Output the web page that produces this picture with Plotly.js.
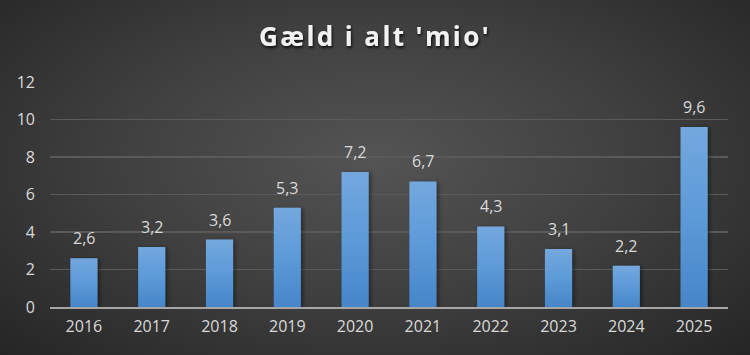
<!DOCTYPE html>
<html><head><meta charset="utf-8">
<script src="https://cdn.plot.ly/plotly-3.0.1.min.js"></script>
<style>
html,body{margin:0;padding:0;}
#chart{width:750px;height:355px;background:radial-gradient(ellipse at 50% 45%, #545454 0%, #3f3f3f 50%, #252525 100%);}
</style></head>
<body><div id="chart"></div>
<script>
const years = ['2016','2017','2018','2019','2020','2021','2022','2023','2024','2025'];
const debt = [2.6, 3.2, 3.6, 5.3, 7.2, 6.7, 4.3, 3.1, 2.2, 9.6];
const labels = debt.map(v => v.toFixed(1).replace('.', ','));
const yTicks = [0, 2, 4, 6, 8, 10, 12];
const FONT = '"Open Sans", Lato, sans-serif';

const trace = {
  type: 'bar', x: years, y: debt,
  marker: {color: '#5b9bd5'},
  hoverinfo: 'none'
};
// category axis: annotation x is the serial number of the category
const annotations = years.map((yr, i) => ({
  x: i, y: debt[i], text: labels[i], showarrow: false,
  xanchor: 'center', yanchor: 'bottom', yshift: 7,
  font: {family: FONT, size: 16, color: '#d9d9d9'}
}));
const layout = {
  width: 750, height: 355,
  paper_bgcolor: 'rgba(0,0,0,0)', plot_bgcolor: 'rgba(0,0,0,0)',
  margin: {l: 50, r: 22, t: 82, b: 48},
  bargap: 0.6,
  showlegend: false,
  annotations: annotations,
  title: {text: "<b>Gæld i alt 'mio'</b>", x: 0.5, xanchor: 'center', y: 0.895, yanchor: 'middle',
    font: {family: FONT, size: 26, color: '#f2f2f2'}},
  xaxis: {type: 'category', categoryorder: 'array', categoryarray: years, range: [-0.5, years.length - 0.5],
    showgrid: false, zeroline: false, showline: true, linecolor: '#a6a6a6', linewidth: 2,
    ticks: '', ticklabelstandoff: 4, tickfont: {family: FONT, size: 16, color: '#d9d9d9'}},
  yaxis: {range: [0, 12], tickvals: yTicks, ticktext: yTicks.map(String), showgrid: true, gridcolor: '#5a5a5a', gridwidth: 1.5,
    zeroline: false, showline: false, ticks: '', ticklabelstandoff: 14,
    tickfont: {family: FONT, size: 16, color: '#d9d9d9'}}
};
Plotly.newPlot('chart', [trace], layout, {displayModeBar: false, staticPlot: true}).then(() => {
  const svg = document.querySelector('#chart svg.main-svg');
  const NS = 'http://www.w3.org/2000/svg';
  const defs = document.createElementNS(NS, 'defs');
  defs.innerHTML = '<linearGradient id="barGrad" x1="0" y1="0" x2="0" y2="1">' +
    '<stop offset="0" stop-color="#73a8de"/><stop offset="0.5" stop-color="#5c9ad8"/><stop offset="1" stop-color="#4686c8"/></linearGradient>' +
    '<filter id="barShadow" x="-20%" y="-5%" width="150%" height="110%"><feDropShadow dx="2" dy="1" stdDeviation="2" flood-color="#000" flood-opacity="0.45"/></filter>' +
    '<filter id="titleShadow" x="-10%" y="-30%" width="120%" height="170%"><feDropShadow dx="1" dy="2" stdDeviation="1.5" flood-color="#000" flood-opacity="0.8"/></filter>';
  svg.insertBefore(defs, svg.firstChild);
  document.querySelectorAll('#chart .trace.bars .point path').forEach(p => {
    p.style.fill = 'url(#barGrad)';
    p.setAttribute('filter', 'url(#barShadow)');
  });
  document.querySelectorAll('#chart .gtitle').forEach(t => {
    t.style.letterSpacing = '2.4px';
    t.setAttribute('filter', 'url(#titleShadow)');
  });
});
</script></body></html>
